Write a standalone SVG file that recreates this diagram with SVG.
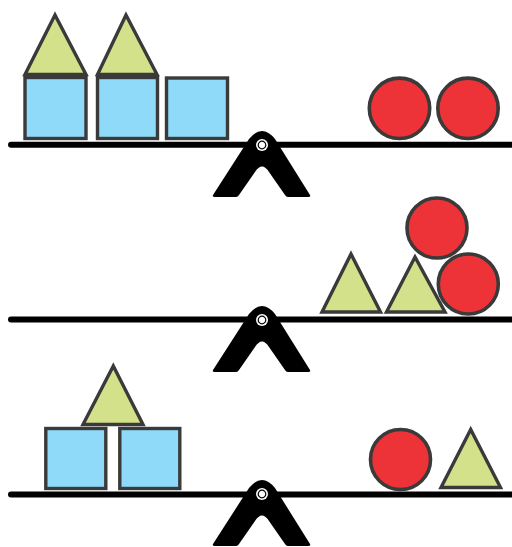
<svg xmlns="http://www.w3.org/2000/svg" width="512" height="547" viewBox="0 0 512 547">
<defs>
<style>
.sq{fill:#8fd9f9;stroke:#3a3a3a;stroke-width:3.4}
.tri{fill:#d4e18b;stroke:#3a3a3a;stroke-width:3.4;stroke-linejoin:miter}
.ball{fill:#ee3338;stroke:#3a3a3a;stroke-width:3.6}
.beam{fill:#000}
.pv1{fill:#fff}
.pv2{fill:#fff;stroke:#000;stroke-width:1.2}
</style>
<g id="fulcrum">
<path d="M -49 50 L -13 -6 Q 0 -22 13 -6 L 48 50 Q 49 52 46 52 L 26 52 Q 24 52 23 50 L 7 27 Q 0 16 -7 27 L -23 50 Q -24 52 -26 52 L -47 52 Q -50 52 -49 50 Z" fill="#000"/>
</g>
<g id="beamshape">
<rect class="beam" x="8" y="-3" width="510" height="6" rx="3"/>
</g>
<g id="pivot">
<circle class="pv1" r="6"/>
<circle class="pv2" r="3.8"/>
</g>
</defs>
<g id="connectors">
<use href="#fulcrum" transform="translate(262,145)"/>
<use href="#beamshape" transform="translate(0,144.7)"/>
<use href="#pivot" transform="translate(262,145)"/>
<use href="#fulcrum" transform="translate(262,320)"/>
<use href="#beamshape" transform="translate(0,319.5)"/>
<use href="#pivot" transform="translate(262,320)"/>
<use href="#fulcrum" transform="translate(262,494)"/>
<use href="#beamshape" transform="translate(0,494.5)"/>
<use href="#pivot" transform="translate(262,494)"/>
</g>
<g id="scene1">
<g id="s1-sq1"><rect class="sq" x="25" y="77.5" width="61" height="61"/></g>
<g id="s1-sq2"><rect class="sq" x="97.5" y="77.5" width="60" height="61"/></g>
<g id="s1-sq3"><rect class="sq" x="166.5" y="78" width="61" height="60.5"/></g>
<g id="s1-tri1"><polygon class="tri" points="55,15 25,74.5 86,74.5"/></g>
<g id="s1-tri2"><polygon class="tri" points="126,15 97.5,74.5 157,74.5"/></g>
<g id="s1-ball1"><circle class="ball" cx="399.5" cy="108.3" r="30.2"/></g>
<g id="s1-ball2"><circle class="ball" cx="468" cy="108.3" r="30.2"/></g>
</g>
<g id="scene2">
<g id="s2-tri1"><polygon class="tri" points="351,254 322,312 380.5,312"/></g>
<g id="s2-tri2"><polygon class="tri" points="415,257 386.5,312 445,312"/></g>
<g id="s2-ball1"><circle class="ball" cx="437" cy="228" r="30"/></g>
<g id="s2-ball2"><circle class="ball" cx="468.3" cy="284" r="30"/></g>
</g>
<g id="scene3">
<g id="s3-sq1"><rect class="sq" x="45.8" y="428.5" width="60" height="60"/></g>
<g id="s3-sq2"><rect class="sq" x="119.8" y="428.5" width="60" height="60"/></g>
<g id="s3-tri1"><polygon class="tri" points="113.3,366 83,424.5 143,424.5"/></g>
<g id="s3-ball1"><circle class="ball" cx="400.5" cy="459.5" r="30"/></g>
<g id="s3-tri2"><polygon class="tri" points="470.7,429.5 441,487.5 500.5,487.5"/></g>
</g>
</svg>
